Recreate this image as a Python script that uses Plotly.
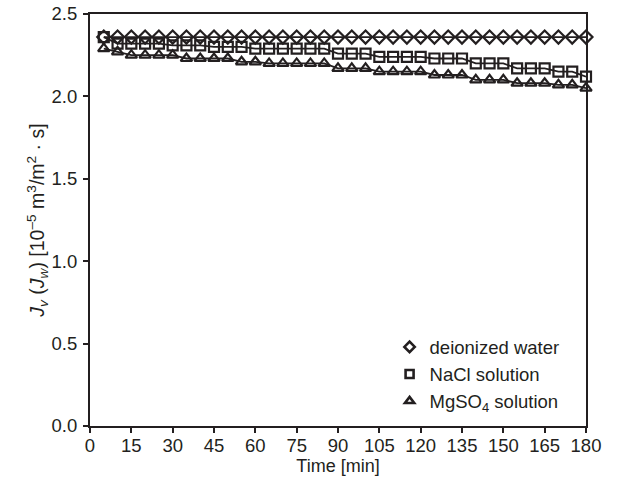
import plotly.graph_objects as go

time_min = [5, 10, 15, 20, 25, 30, 35, 40, 45, 50, 55, 60, 65, 70, 75, 80, 85, 90,
            95, 100, 105, 110, 115, 120, 125, 130, 135, 140, 145, 150, 155, 160, 165, 170, 175, 180]

deionized = [2.36] * 36

nacl = [2.36, 2.32, 2.32, 2.32, 2.32, 2.31, 2.31, 2.31, 2.30, 2.30, 2.30, 2.29,
        2.29, 2.29, 2.29, 2.29, 2.29, 2.26, 2.26, 2.26, 2.24, 2.24, 2.24, 2.24,
        2.23, 2.23, 2.23, 2.20, 2.20, 2.20, 2.17, 2.17, 2.17, 2.15, 2.15, 2.12]

mgso4 = [2.29, 2.27, 2.25, 2.25, 2.25, 2.25, 2.23, 2.23, 2.23, 2.23, 2.21, 2.21,
         2.20, 2.20, 2.20, 2.20, 2.20, 2.17, 2.17, 2.17, 2.15, 2.15, 2.15, 2.15,
         2.13, 2.13, 2.13, 2.10, 2.10, 2.10, 2.08, 2.08, 2.08, 2.07, 2.07, 2.05]

x_ticks = list(range(0, 181, 15))

series = [
    ("deionized water", deionized, "diamond-open"),
    ("NaCl solution", nacl, "square-open"),
    ("MgSO<sub>4</sub> solution", mgso4, "triangle-up-open"),
]

ink = "#231f20"
fig = go.Figure()
for i, (name, vals, sym) in enumerate(series):
    fig.add_trace(go.Scatter(
        x=time_min, y=vals, name=name, mode="lines+markers", showlegend=False,
        line=dict(color=ink, width=1.8),
        marker=dict(symbol=sym, size=10, color=ink, line=dict(color=ink, width=2.2)),
        cliponaxis=False,
    ))
for i, (name, vals, sym) in enumerate(series):
    fig.add_trace(go.Scatter(
        x=[None], y=[None], name=name, mode="markers", legendgroup=f"g{i}",
        marker=dict(symbol=sym, size=8, color=ink, line=dict(color=ink, width=2.6)),
    ))

font_family = "Liberation Sans, Arial, Helvetica, sans-serif"

fig.update_layout(
    width=617, height=488,
    margin=dict(l=90, r=31, t=14, b=62, autoexpand=False),
    paper_bgcolor="white", plot_bgcolor="white",
    font=dict(family=font_family, size=18, color=ink),
    showlegend=True,
    legend=dict(x=0.604, y=0.237, xanchor="left", yanchor="top",
                bgcolor="rgba(0,0,0,0)", traceorder="grouped", tracegroupgap=0,
                font=dict(size=18.5), itemwidth=30),
    xaxis=dict(range=[0, 180], tickvals=x_ticks, ticks="outside", ticklen=5, tickwidth=2,
               tickcolor=ink, showline=True, linecolor=ink, linewidth=2,
               mirror=True, showgrid=False, zeroline=False, tickfont=dict(size=18.5),
               ticklabelstandoff=-3, automargin=False,
               title=dict(text="Time [min]", standoff=4, font=dict(size=18))),
    yaxis=dict(range=[0, 2.5], dtick=0.5, tickformat=".1f", ticks="outside", ticklen=5,
               tickwidth=2, tickcolor=ink, showline=True, linecolor=ink,
               linewidth=2, mirror=True, showgrid=False, zeroline=False, tickfont=dict(size=18.5),
               ticklabelstandoff=2, automargin=False,
               title=dict(text="<i>J<sub>v</sub></i> (<i>J<sub>w</sub></i>) [10<sup>\u20135</sup> m<sup>3</sup>/m<sup>2</sup> \u00b7 s]",
                          standoff=2, font=dict(size=19.5))),
)

fig.write_html("out.html")
